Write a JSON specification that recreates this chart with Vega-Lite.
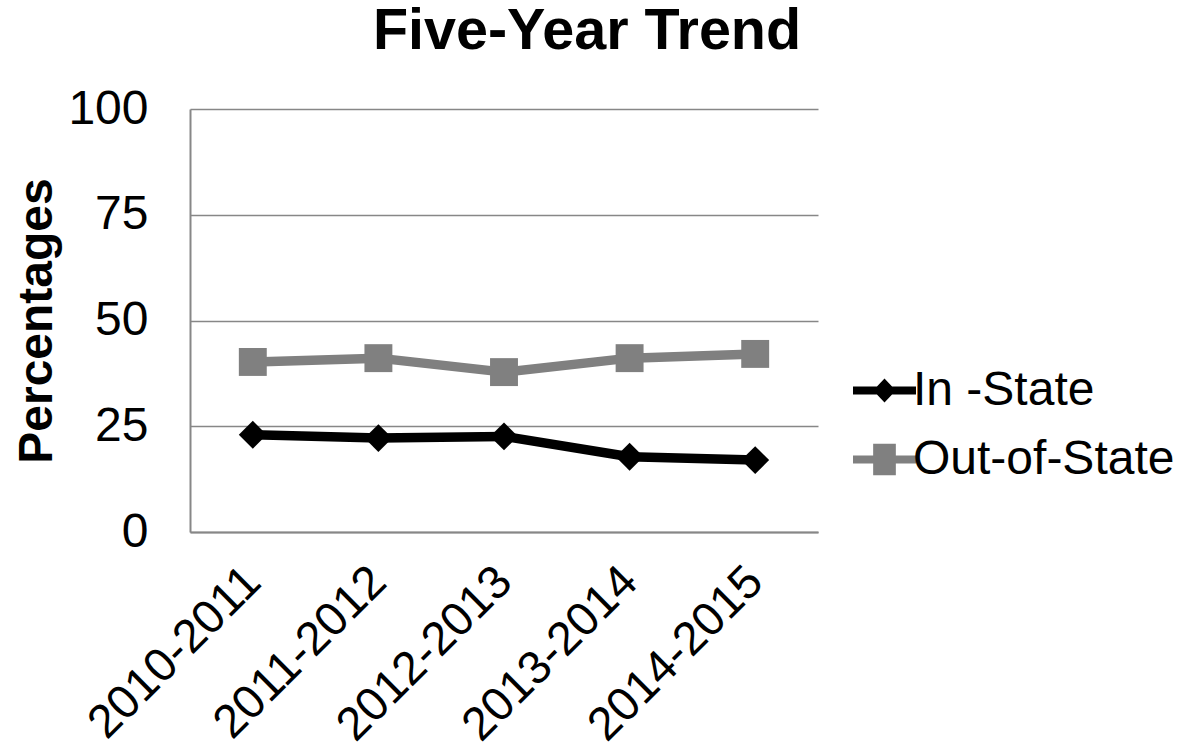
{
  "$schema": "https://vega.github.io/schema/vega-lite/v6.json",
  "width": 628,
  "height": 423,
  "autosize": {"type": "none"},
  "padding": {"left": 190, "top": 109, "right": 362, "bottom": 221},
  "background": "white",
  "config": {
    "font": "Liberation Sans",
    "view": {"stroke": null}
  },
  "title": {
    "text": "Five-Year Trend",
    "font": "Liberation Sans",
    "fontSize": 57.5,
    "fontWeight": "bold",
    "color": "#000000",
    "anchor": "middle",
    "frame": "group",
    "dx": 83,
    "offset": 24
  },
  "data": {
    "values": [
      {"year": "2010-2011", "series": "In -State", "pct": 23.0},
      {"year": "2011-2012", "series": "In -State", "pct": 22.2},
      {"year": "2012-2013", "series": "In -State", "pct": 22.6},
      {"year": "2013-2014", "series": "In -State", "pct": 17.8},
      {"year": "2014-2015", "series": "In -State", "pct": 17.0},
      {"year": "2010-2011", "series": "Out-of-State", "pct": 40.2},
      {"year": "2011-2012", "series": "Out-of-State", "pct": 41.1},
      {"year": "2012-2013", "series": "Out-of-State", "pct": 37.8},
      {"year": "2013-2014", "series": "Out-of-State", "pct": 41.1},
      {"year": "2014-2015", "series": "Out-of-State", "pct": 42.1}
    ]
  },
  "encoding": {
    "x": {
      "field": "year",
      "type": "nominal",
      "sort": null,
      "scale": {"type": "point", "padding": 0.5},
      "axis": {
        "title": null,
        "labelAngle": -45,
        "labelAlign": "right",
        "labelBaseline": "middle",
        "labelFont": "Liberation Sans",
        "labelFontSize": 47,
        "labelColor": "#000000",
        "labelPadding": 42,
        "labelLimit": 400,
        "ticks": false,
        "grid": false,
        "domainColor": "#878787",
        "domainWidth": 2,
        "labelOverlap": false
      }
    },
    "y": {
      "field": "pct",
      "type": "quantitative",
      "scale": {"domain": [0, 100], "nice": false, "zero": true},
      "axis": {
        "title": "Percentages",
        "titleFont": "Liberation Sans",
        "titleFontSize": 48,
        "titleFontWeight": "bold",
        "titleColor": "#000000",
        "titlePadding": 6,
        "values": [0, 25, 50, 75, 100],
        "labelFont": "Liberation Sans",
        "labelFontSize": 48,
        "labelColor": "#000000",
        "labelPadding": 42,
        "ticks": false,
        "grid": true,
        "gridColor": "#878787",
        "gridWidth": 1.5,
        "domainColor": "#878787",
        "domainWidth": 2
      }
    }
  },
  "layer": [
    {
      "mark": {"type": "line", "strokeWidth": 9.5, "strokeJoin": "round", "strokeCap": "round"},
      "encoding": {
        "color": {
          "field": "series",
          "type": "nominal",
          "scale": {"domain": ["In -State", "Out-of-State"], "range": ["#000000", "#808080"]},
          "legend": {
            "title": null,
            "orient": "none",
            "legendX": 663,
            "legendY": 250,
            "padding": 0,
            "rowPadding": 13,
            "symbolSize": 3969,
            "labelFont": "Liberation Sans",
            "labelFontSize": 48,
            "labelColor": "#000000",
            "labelOffset": -3,
            "labelLimit": 400,
            "encode": {
              "symbols": {
                "update": {
                  "shape": {"signal": "datum.value === 'In -State' ? 'M-1,-0.13H1V0.13H-1Z M0,-0.38L0.36,0L0,0.38L-0.36,0Z' : 'M-1,-0.13H1V0.13H-1Z M-0.36,-0.5H0.36V0.5H-0.36Z'"},
                  "fill": {"signal": "datum.value === 'In -State' ? '#000000' : '#808080'"},
                  "stroke": {"value": "transparent"},
                  "strokeWidth": {"value": 0},
                  "opacity": {"value": 1}
                }
              }
            }
          }
        }
      }
    },
    {
      "transform": [{"filter": "datum.series === 'In -State'"}],
      "mark": {"type": "point", "shape": "diamond", "filled": true, "size": 780, "color": "#000000", "opacity": 1}
    },
    {
      "transform": [{"filter": "datum.series === 'Out-of-State'"}],
      "mark": {"type": "point", "shape": "square", "filled": true, "size": 780, "color": "#808080", "opacity": 1}
    }
  ]
}
